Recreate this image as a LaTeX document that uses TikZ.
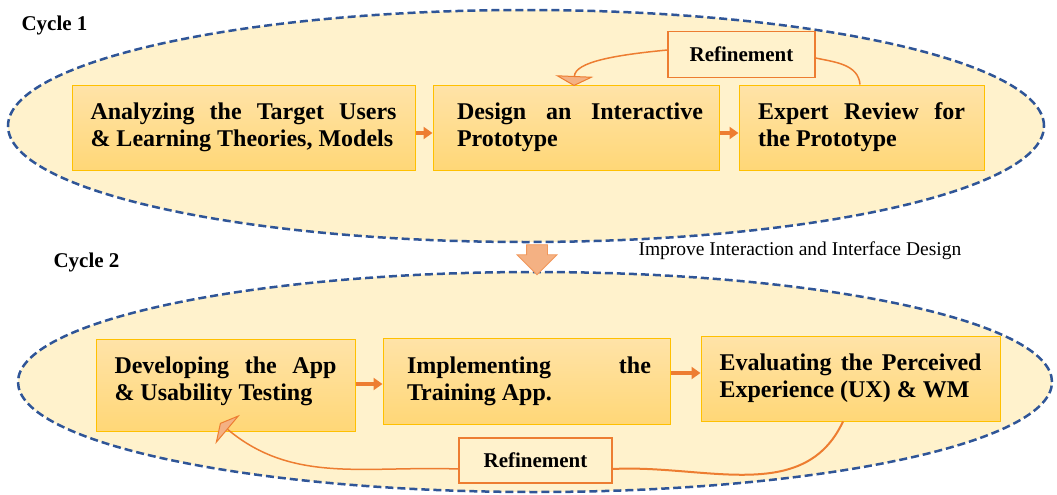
\documentclass[tikz,border=0pt]{standalone}
\usepackage{fontspec}
\setmainfont{Liberation Serif}
\usetikzlibrary{arrows.meta,shapes.geometric,shapes.arrows}

\definecolor{cream}{HTML}{FFF2CC}
\definecolor{cycleblue}{HTML}{2F5597}
\definecolor{gold}{HTML}{FFC000}
\definecolor{boxtop}{HTML}{FFE3A8}
\definecolor{boxbot}{HTML}{FFD777}
\definecolor{orng}{HTML}{ED7D31}
\definecolor{salmon}{HTML}{F4B183}

\tikzset{
  cyclering/.style={ellipse, draw=cycleblue, fill=cream, line width=2.5pt,
    dash pattern=on 8pt off 4pt, inner sep=0pt},
  stage/.style={draw=gold, line width=1pt, top color=boxtop, bottom color=boxbot,
    inner sep=0pt, font=\fontsize{24}{27}\selectfont\bfseries},
  refbox/.style={draw=orng, fill=cream, line width=1.3pt, inner sep=0pt,
    minimum height=46pt, font=\fontsize{21}{24}\selectfont\bfseries},
  flow/.style={orng, line width=3.5pt, -{Triangle[length=9pt,width=12pt]}},
  loop/.style={orng, line width=1.5pt},
  loophead/.style={-{Triangle[length=10pt,width=38pt,fill=salmon,line width=1pt]}},
  cyclelabel/.style={font=\fontsize{21}{24}\selectfont\bfseries, anchor=west},
}

\begin{document}
\begin{tikzpicture}[x=1pt,y=-1pt]
\useasboundingbox (0,0) rectangle (1057,495);

% the two cycles
\node[cyclering, minimum width=1036pt, minimum height=232pt] (c1) at (526,126) {};
\node[cyclering, minimum width=1034pt, minimum height=220pt] (c2) at (535,382) {};

\node[cyclelabel] (l1) at (18,25) {Cycle 1};
\node[cyclelabel] (l2) at (50,262) {Cycle 2};

% cycle 1 stages
\node[stage, minimum width=343pt, minimum height=85pt] (a) at (243.5,127.5)
  {\parbox{306pt}{Analyzing the Target Users\linebreak \& Learning Theories, Models}};
\node[stage, minimum width=286pt, minimum height=85pt] (b) at (576,127.5)
  {\hspace*{8pt}\parbox{246pt}{Design an Interactive\linebreak Prototype}};
\node[stage, minimum width=245pt, minimum height=85pt] (c) at (861.5,127.5)
  {\parbox{207pt}{Expert Review for\linebreak the Prototype}};

\draw[flow] (a.east |- 0,133) -- (b.west |- 0,133);
\draw[flow] (b.east |- 0,133) -- (c.west |- 0,133);

\node[refbox, minimum width=147pt] (r1) at (741.5,54.5) {Refinement};
\coordinate (r1in) at (574,86);
\draw[loop] (r1.east |- 0,58) to[out=-12,in=95] (c.north -| 860,0);
\draw[loop, loophead] (r1.west |- 0,50) .. controls (615,55) and (575,62) .. (r1in);

% transition between the cycles
\node[single arrow, draw=orng!80, fill=salmon, line width=0.8pt, rotate=-90,
  minimum width=39pt, single arrow head extend=9.5pt, minimum height=30pt,
  inner xsep=0pt, inner ysep=10pt, anchor=center] (down) at (537,254.5) {};
\node[font=\fontsize{19.5}{22}\selectfont, anchor=west] (imp) at (635,251)
  {Improve Interaction and Interface Design};

% cycle 2 stages
\node[stage, minimum width=259pt, minimum height=92pt] (d) at (225.5,385)
  {\parbox{222pt}{Developing the App\linebreak \& Usability Testing\rule[-12pt]{0pt}{12pt}}};
\node[stage, minimum width=287pt, minimum height=86pt] (e) at (526.5,381)
  {\hspace*{5pt}\parbox{244pt}{Implementing the\linebreak Training App.\rule[-4pt]{0pt}{4pt}}};
\node[stage, minimum width=299pt, minimum height=85pt] (f) at (850.5,378.5)
  {\parbox{262pt}{Evaluating the Perceived\linebreak Experience (UX) \& WM\rule[-4pt]{0pt}{4pt}}};

\draw[flow] (d.east |- 0,384) -- (e.west |- 0,384);
\draw[flow] (e.east |- 0,373) -- (f.west |- 0,373);

\node[refbox, minimum width=153pt, minimum height=45pt] (r2) at (535.5,460.5) {Refinement};
\coordinate (r2in) at (220,423);
\draw[loop, line width=2pt] (f.south -| 843,0) to[out=-115,in=3] (r2.east |- 0,469);
\draw[loop, loophead] (r2.west |- 0,469) to[out=178,in=-40] (r2in);
\end{tikzpicture}
\end{document}
